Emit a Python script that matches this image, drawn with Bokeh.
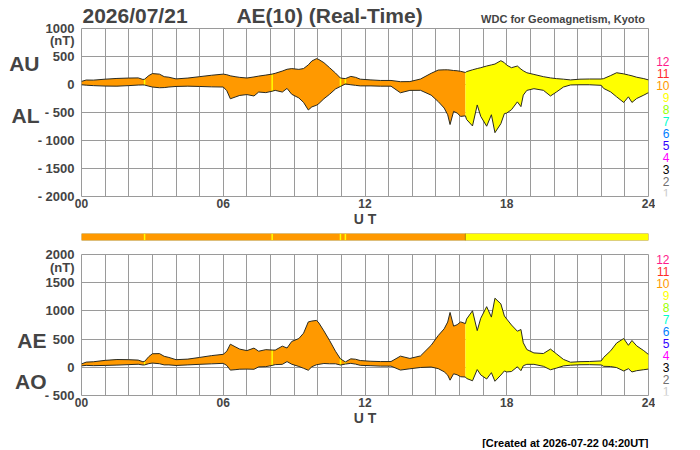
import numpy as np
from bokeh.plotting import figure
from bokeh.layouts import column, row
from bokeh.models import Range1d, FixedTicker, LinearAxis
from bokeh.core.properties import value
from bokeh.embed import file_html
from bokeh.resources import INLINE

# AU / AL (nT), time in hours UT
hours = [0.0, 0.2, 0.5, 1.0, 1.5, 2.0, 2.4, 2.6, 2.67, 2.85, 3.0, 3.3, 3.5, 3.7,
         4.0, 4.5, 5.0, 5.5, 6.0, 6.15, 6.3, 6.5, 6.7, 7.0, 7.3, 7.5, 7.8, 8.07,
         8.2, 8.5, 8.7, 8.9, 9.2, 9.4, 9.6, 9.75, 9.95, 10.05, 10.26, 10.5, 10.75,
         10.96, 11.17, 11.4, 11.6, 11.8, 12.25, 12.65, 13.1, 13.5, 13.9, 14.35,
         14.8, 15.1, 15.35, 15.5, 15.6, 15.75, 15.9, 16.05, 16.25, 16.3, 16.55,
         16.75, 16.9, 17.15, 17.35, 17.5, 17.75, 17.9, 18.0, 18.2, 18.45, 18.6,
         18.7, 18.85, 19.15, 19.55, 19.85, 20.1, 20.4, 20.7, 21.1, 21.5, 22.0,
         22.1, 22.4, 22.65, 22.95, 23.15, 23.3, 23.5, 23.8, 24.0]
au = [55, 80, 78, 95, 108, 115, 118, 90, 95, 160, 195, 185, 140, 130,
      100, 115, 140, 165, 185, 175, 155, 140, 127, 116, 135, 150, 168, 186,
      200, 240, 272, 284, 270, 285, 350, 420, 462, 445, 390, 300, 205,
      115, 105, 145, 128, 95, 82, 72, 72, 50, 52, 98,
      200, 258, 262, 262, 258, 250, 245, 235, 215, 230, 262,
      285, 300, 330, 350, 365, 425, 390, 345, 300, 330, 275,
      245, 210, 180, 140, 118, 105, 95, 82, 95, 98, 98,
      105, 160, 210, 190, 170, 155, 130, 105, 82]
al = [-5, -12, -20, -28, -30, -20, -10, -8, -10, -30, -45, -58, -55, -45,
      -35, -30, -35, -42, -45, -110, -255, -225, -195, -180, -205, -135, -145, -120,
      -105, -135, -70, -175, -240, -320, -455, -400, -370, -340, -255, -175, -80,
      -35, 10, -5, -15, -25, -25, -30, -30, -148, -105, -104,
      -190, -305, -420, -540, -715, -480, -510, -570, -560, -625, -740,
      -365, -570, -745, -540, -860, -700, -520, -510, -450, -310, -395,
      -190, -105, -75, -104, -205, -135, -45, -8, -5, -5, -15,
      -70, -133, -220, -320, -220, -320, -250, -190, -145]

# number of stations (colour code)
nst_start = [0.0, 16.25]
nst_count = [10, 9]
dip_hours = [2.67, 8.07, 10.96, 11.17]   # short drops to 9 stations
dip_count = 9

st_levels = [12, 11, 10, 9, 8, 7, 6, 5, 4, 3, 2, 1]
st_colors = ["#FF1A8C", "#FF2A2A", "#FF9900", "#FFFF00", "#99FF00", "#00FFCC",
             "#0080FF", "#3300FF", "#FF00FF", "#000000", "#707070", "#CCCCCC"]
st_color = dict(zip(st_levels, st_colors))

date_text = "2026/07/21"
title_text = "AE(10) (Real-Time)"
source_text = "WDC for Geomagnetism, Kyoto"
created_text = "[Created at 2026-07-22 04:20UT]"

x_ticks = [0, 6, 12, 18, 24]
x_labels = ["00", "06", "12", "18", "24"]

FONT = "Liberation Sans"
GRID = "#9a9a9a"
EDGE = "#2a2a20"
LEFT, FRAME_W, RIGHT = 81, 567, 7
MAIN_W = LEFT + FRAME_W + RIGHT
KEY_W = 700 - MAIN_W
WIDE_RIGHT = 700 - LEFT - FRAME_W

h = np.array(hours)
au = np.array(au, dtype=float)
al = np.array(al, dtype=float)
ae = au - al
ao = (au + al) / 2.0
dip_idx = [hours.index(t) for t in dip_hours]


def canvas(w, hgt, x0, x1, y0, y1, left=0, right=0, top=0, bottom=0):
    # text area; ranges are page pixels, y growing downwards
    c = figure(width=w, height=hgt, x_range=Range1d(x0, x1), y_range=Range1d(y1, y0),
               x_axis_type=None, y_axis_type=None, output_backend="svg",
               toolbar_location=None, min_border_left=left, min_border_right=right,
               min_border_top=top, min_border_bottom=bottom)
    c.outline_line_color = None
    c.background_fill_color = None
    c.border_fill_color = None
    return c


def text_axis(ticks, labels, size, standoff):
    # an axis used only to carry texts in a border
    return LinearAxis(ticker=FixedTicker(ticks=ticks),
                      major_label_overrides=dict(zip(ticks, labels)),
                      axis_line_color=None, major_tick_line_color=None,
                      minor_tick_line_color=None, major_tick_out=0, minor_tick_out=0,
                      major_label_standoff=standoff, major_label_text_font=FONT,
                      major_label_text_font_size=size, major_label_text_font_style="bold")


def panel(lo, hi, yticks, unit_at, top, frame_h, bottom, upper, lower, names, name_at):
    p = figure(width=MAIN_W, height=top + frame_h + bottom, x_range=Range1d(0, 24),
               y_range=Range1d(lo, hi), output_backend="svg", toolbar_location=None,
               min_border_left=LEFT, min_border_right=RIGHT,
               min_border_top=top, min_border_bottom=bottom)
    p.background_fill_color = "white"
    p.outline_line_color = GRID

    p.xaxis.ticker = FixedTicker(ticks=x_ticks)
    p.xaxis.major_label_overrides = dict(zip(x_ticks, x_labels))
    p.xaxis.axis_label = "U T"
    p.xaxis.axis_label_text_font = FONT
    p.xaxis.axis_label_text_font_size = "14px"
    p.xaxis.axis_label_text_font_style = "bold"
    p.xaxis.axis_label_standoff = 0
    p.yaxis.ticker = FixedTicker(ticks=yticks + [unit_at])
    over = {t: ("- %d" % -t if t < 0 else str(t)) for t in yticks}
    over[unit_at] = "(nT)"
    p.yaxis.major_label_overrides = over
    p.axis.axis_line_color = None
    p.axis.major_tick_line_color = None
    p.axis.minor_tick_line_color = None
    p.axis.major_tick_out = 0
    p.axis.minor_tick_out = 0
    p.axis.major_label_text_font = FONT
    p.axis.major_label_text_font_style = "bold"
    p.yaxis.major_label_text_font_size = "13px"
    p.xaxis.major_label_text_font_size = "12px"
    p.xaxis.major_label_standoff = 2
    p.yaxis.major_label_standoff = 7

    p.xgrid.ticker = FixedTicker(ticks=list(range(25)))
    p.ygrid.ticker = FixedTicker(ticks=yticks)
    p.grid.grid_line_color = GRID
    p.grid.grid_line_width = 1

    # series names on a second, outer left axis
    p.add_layout(text_axis(name_at, names, "21px", -5), "left")

    for k, start in enumerate(nst_start):
        end = nst_start[k + 1] if k + 1 < len(nst_start) else 24
        m = (h >= start) & (h <= end)
        p.varea(x=h[m], y1=lower[m], y2=upper[m], fill_color=st_color[nst_count[k]])
    p.segment(x0=h[dip_idx], y0=lower[dip_idx], x1=h[dip_idx], y1=upper[dip_idx],
              line_color=st_color[dip_count], line_width=1.5)
    p.line(h, upper, line_color=EDGE, line_width=1)
    p.line(h, lower, line_color=EDGE, line_width=1)
    return p


def key(top, frame_h, bottom, frame_y, first_y):
    # station-count colour key, same vertical borders as its panel
    k = canvas(KEY_W, top + frame_h + bottom, MAIN_W, 700, frame_y, frame_y + frame_h,
               top=top, bottom=bottom)
    ys = [first_y + 12 * i for i in range(len(st_levels))]
    k.text(x=[669] * len(st_levels), y=ys, text=[str(n) for n in st_levels],
           text_font=value(FONT), text_font_size="12px", text_align="right",
           text_baseline="middle", text_color=st_colors)
    return k


top = panel(-2000, 1000, [-2000, -1500, -1000, -500, 0, 500, 1000], 778,
            27, 169, 36, au, al, ["AU", "AL"], [379, -562])
# header texts carried by two axes above the top panel (centre positions in hours)
top.add_layout(text_axis([20.38], [source_text], "11px", 4), "above")
top.add_layout(text_axis([2.265, 10.5], [date_text, title_text], "21px", -17), "above")
top_row = row(top, key(27, 169, 36, 27, 60.5))

# colour strip of station counts
bar = figure(width=700, height=14, x_range=Range1d(0, 24), y_range=Range1d(0, 1),
             x_axis_type=None, y_axis_type=None, output_backend="svg",
             toolbar_location=None, min_border_left=LEFT, min_border_right=WIDE_RIGHT,
             min_border_top=1, min_border_bottom=6)
bar.outline_line_color = None
ends = nst_start[1:] + [24]
bar.quad(left=nst_start, right=ends, bottom=0, top=1,
         fill_color=[st_color[c] for c in nst_count], line_color="#a07800", line_alpha=0.7)
bar.segment(x0=dip_hours, y0=0.05, x1=dip_hours, y1=0.95,
            line_color=st_color[dip_count], line_width=1.5)

bot = panel(-500, 2000, [-500, 0, 500, 1000, 1500, 2000], 1778,
            8, 141, 35, ae, ao, ["AE", "AO"], [475, -252])
bot_row = row(bot, key(8, 141, 35, 254, 259))

footer = canvas(700, 18, LEFT, LEFT + FRAME_W, 430, 448, left=LEFT, right=WIDE_RIGHT)
footer.text(x=[648], y=[442.7], text=[created_text], text_font=value(FONT),
            text_font_size="11px", text_font_style="bold", text_align="right",
            text_baseline="alphabetic")

layout = column(top_row, bar, bot_row, footer)
open("out.html", "w").write(file_html(layout, INLINE))
